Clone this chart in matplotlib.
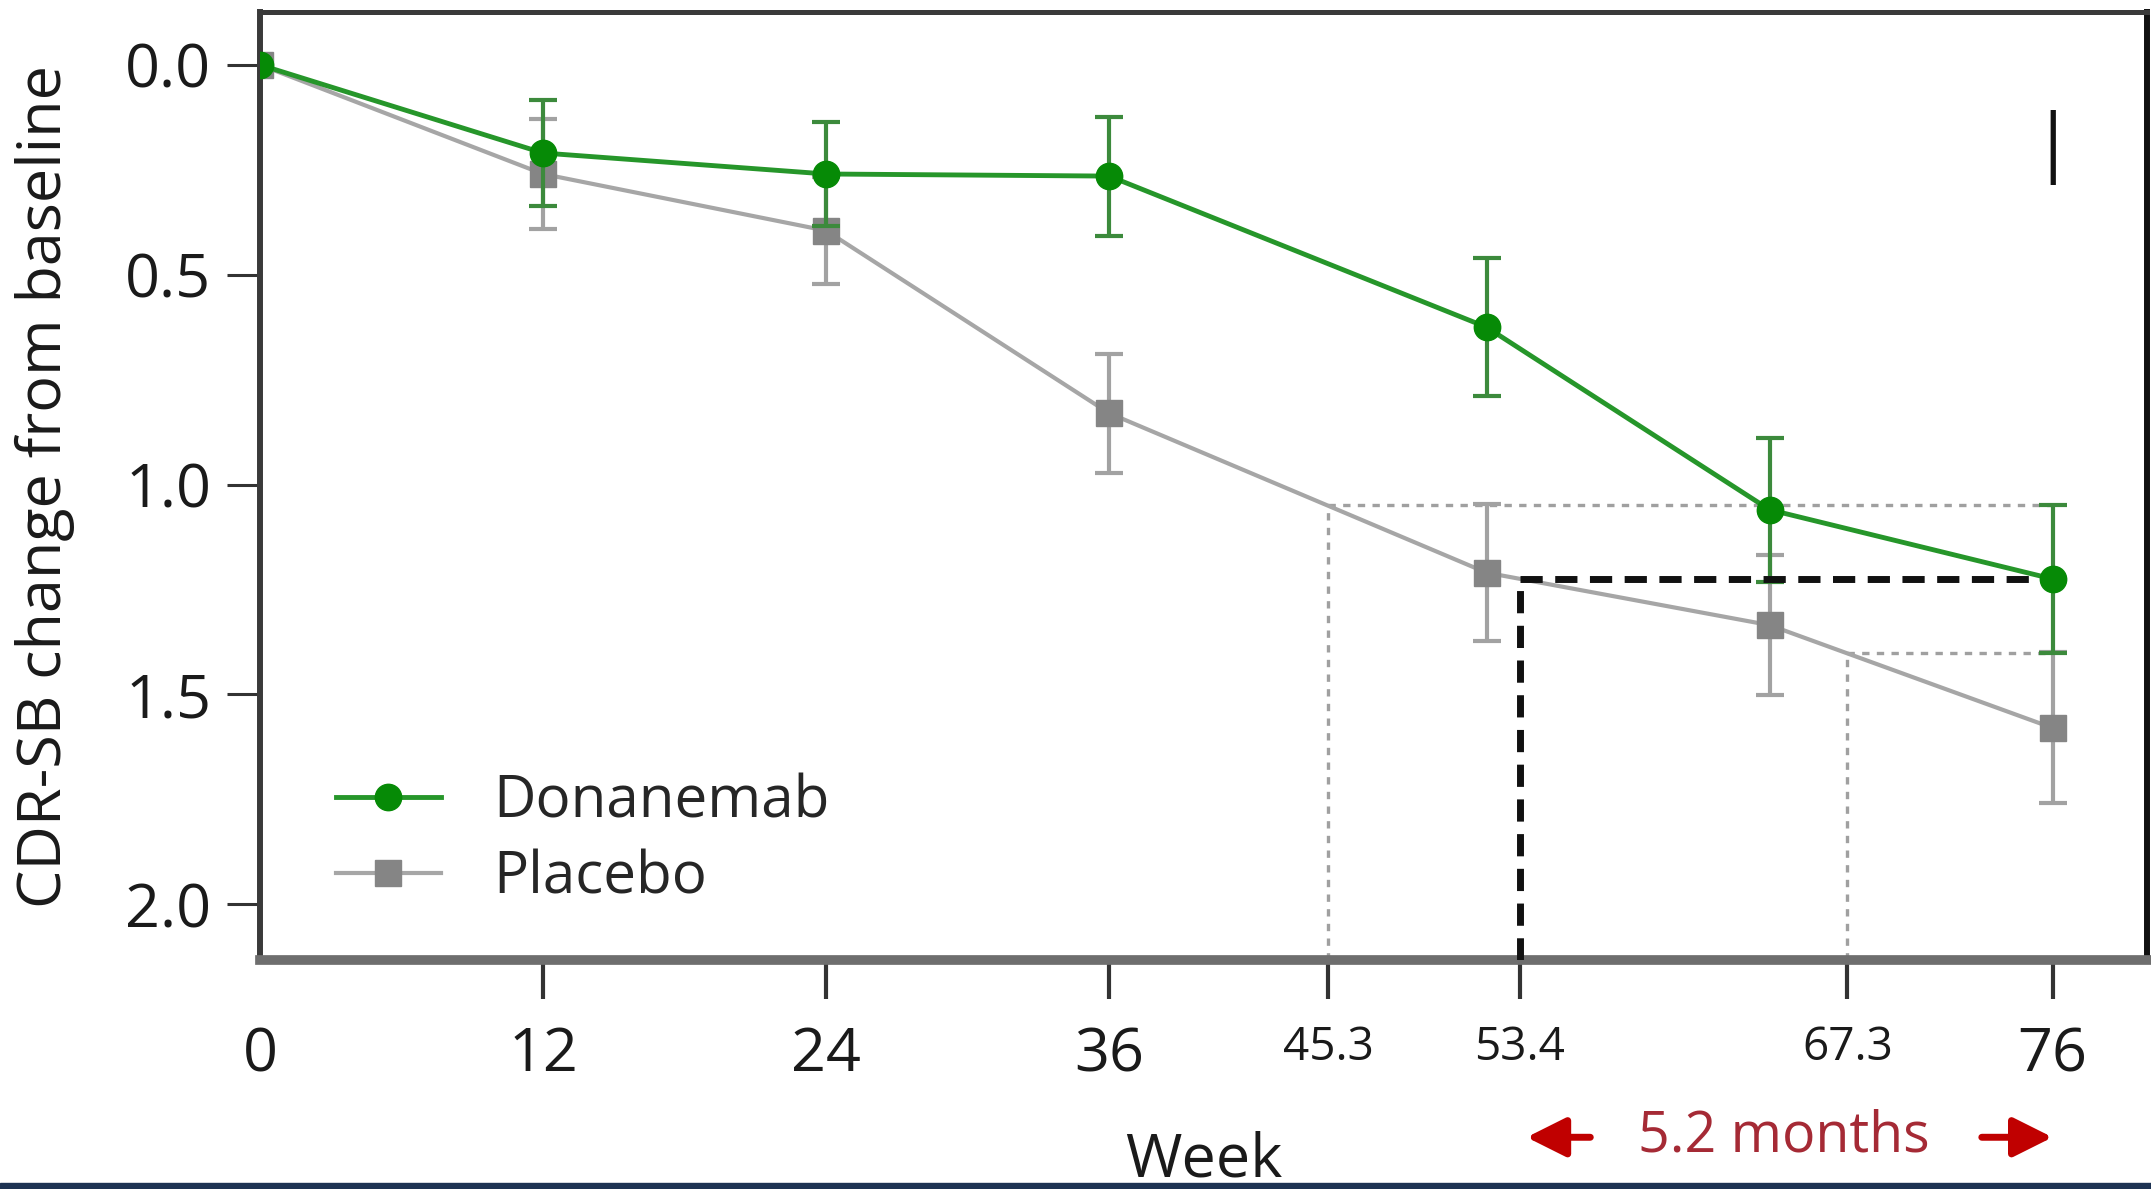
import matplotlib.pyplot as plt
import matplotlib.transforms as mtransforms
from matplotlib.patches import Rectangle

plt.rcParams['font.family'] = ['Open Sans', 'DejaVu Sans']

# CDR-SB change from baseline (axis is inverted, larger = worse)
weeks = [0, 12, 24, 36, 52, 64, 76]
donanemab = [0.0, 0.21, 0.26, 0.265, 0.625, 1.06, 1.225]
donanemab_err = [0.0, 0.127, 0.125, 0.142, 0.165, 0.172, 0.177]
placebo = [0.0, 0.26, 0.395, 0.83, 1.21, 1.335, 1.58]
placebo_err = [0.0, 0.13, 0.127, 0.142, 0.163, 0.167, 0.18]

# weeks at which placebo reaches the week-76 donanemab level (and its CI ends)
match_weeks = [45.3, 53.4, 67.3]
xticks = [0, 12, 24, 36, 45.3, 53.4, 67.3, 76]
yticks = [0.0, 0.5, 1.0, 1.5, 2.0]
delay_label = '5.2 months'

fig = plt.figure(figsize=(21.51, 11.89), dpi=100)
ax = fig.add_axes([0.1209, 0.1926, 0.8772, 0.7973])

xlim = (0, 80)
ylim = (2.133, -0.126)
ax.set_xlim(xlim)
ax.set_ylim(ylim)

# reference lines
d_end = donanemab[-1]
d_hi = d_end - donanemab_err[-1]
d_lo = d_end + donanemab_err[-1]
dot = dict(color='#a0a0a0', lw=2.4, ls=(0, (2.2, 2.2)), zorder=1)
ax.plot([match_weeks[0], match_weeks[0]], [ylim[0], d_hi], **dot)
ax.plot([match_weeks[0], weeks[-1]], [d_hi, d_hi], **dot)
ax.plot([match_weeks[2], match_weeks[2]], [ylim[0], d_lo], **dot)
ax.plot([match_weeks[2], weeks[-1]], [d_lo, d_lo], **dot)

# placebo
ax.errorbar(weeks[1:], placebo[1:], yerr=placebo_err[1:], fmt='none', ecolor='#a2a2a2',
            elinewidth=3, capsize=10, capthick=3, zorder=2)
ax.plot(weeks, placebo, color='#a6a6a6', lw=3, marker='s', ms=19, mfc='#858585',
        mec='#858585', label='Placebo', zorder=2.5)

# donanemab
ax.errorbar(weeks[1:], donanemab[1:], yerr=donanemab_err[1:], fmt='none', ecolor='#3c8a3c',
            elinewidth=3, capsize=10, capthick=3, zorder=3)

# black dashed: time for placebo to reach week-76 donanemab level
dash = dict(color='#111111', lw=5, ls=(0, (3.2, 1.8)), zorder=3.5)
ax.plot([match_weeks[1], weeks[-1]], [d_end, d_end], **dash)
ax.plot([match_weeks[1], match_weeks[1]], [ylim[0], d_end], **dash)

ax.plot(weeks, donanemab, color='#26962a', lw=3.5, marker='o', ms=19, mfc='#068a06',
        mec='#068a06', label='Donanemab', zorder=4)

# axes styling
ax.set_xticks(xticks)
ax.set_xticklabels([f'{w:g}' for w in xticks])
ax.set_yticks(yticks)
ax.set_yticklabels([f'{v:.1f}' for v in yticks])
ax.tick_params(axis='x', length=28, width=3, color='#333333', pad=19, labelsize=44,
               labelcolor='#1a1a1a')
ax.tick_params(axis='y', length=24, width=2.2, color='#333333', pad=11, labelsize=44,
               labelcolor='#1a1a1a')
for lab, w in zip(ax.get_xticklabels(), xticks):
    if w in match_weeks:
        lab.set_fontsize(33)
xt = ax.xaxis.get_major_ticks()
xt[0].tick1line.set_visible(False)
for i, w in enumerate(xticks):
    if w >= match_weeks[2]:
        xt[i].tick1line.set_color('#777777')

ax.spines['left'].set_color('#3a3a3a')
ax.spines['left'].set_linewidth(4.3)
ax.spines['top'].set_color('#3a3a3a')
ax.spines['top'].set_linewidth(3.6)
ax.spines['right'].set_color('#111111')
ax.spines['right'].set_linewidth(4.3)
ax.spines['bottom'].set_color('#6e6e6e')
ax.spines['bottom'].set_linewidth(7)

ax.set_ylabel('CDR-SB change from baseline', fontsize=44, color='#1a1a1a')
ax.yaxis.set_label_coords(-0.114, 0.5)
ax.yaxis.label.set_va('center')
ax.set_xlabel('Week', fontsize=44, color='#1a1a1a')
ax.xaxis.set_label_coords(0.5, -0.228)
ax.xaxis.label.set_va('baseline')

# panel letter
ax.text(weeks[-1], 0.22, 'I', ha='center', va='center', fontsize=76, fontweight='light',
        color='#111111')

# legend
handles, labels = ax.get_legend_handles_labels()
ax.legend(handles[::-1], labels[::-1], loc='lower left', bbox_to_anchor=(0.040, 0.055),
          frameon=False, fontsize=42, handlelength=1.8, handletextpad=0.9,
          labelspacing=0.3, borderaxespad=0, borderpad=0, labelcolor='#262626')

# delay annotation below the axis
blend = mtransforms.blended_transform_factory(ax.transData, ax.transAxes)
ax.text(64.6, -0.187, delay_label, transform=blend, ha='center', va='center',
        fontsize=40, color='#a52a35')
arrow = dict(arrowstyle='-|>', color='#c00000', lw=5, mutation_scale=60, shrinkA=0, shrinkB=0)
ax.annotate('', xy=(match_weeks[1] + 0.3, -0.187), xytext=(match_weeks[1] + 3.0, -0.187),
            xycoords=blend, textcoords=blend, arrowprops=arrow, annotation_clip=False)
ax.annotate('', xy=(weeks[-1], -0.187), xytext=(weeks[-1] - 3.0, -0.187),
            xycoords=blend, textcoords=blend, arrowprops=arrow, annotation_clip=False)

fig.add_artist(Rectangle((0, 0), 1, 6 / 1189, transform=fig.transFigure,
                         color='#1d3252', zorder=10))

fig.savefig('out.png', dpi=100)
